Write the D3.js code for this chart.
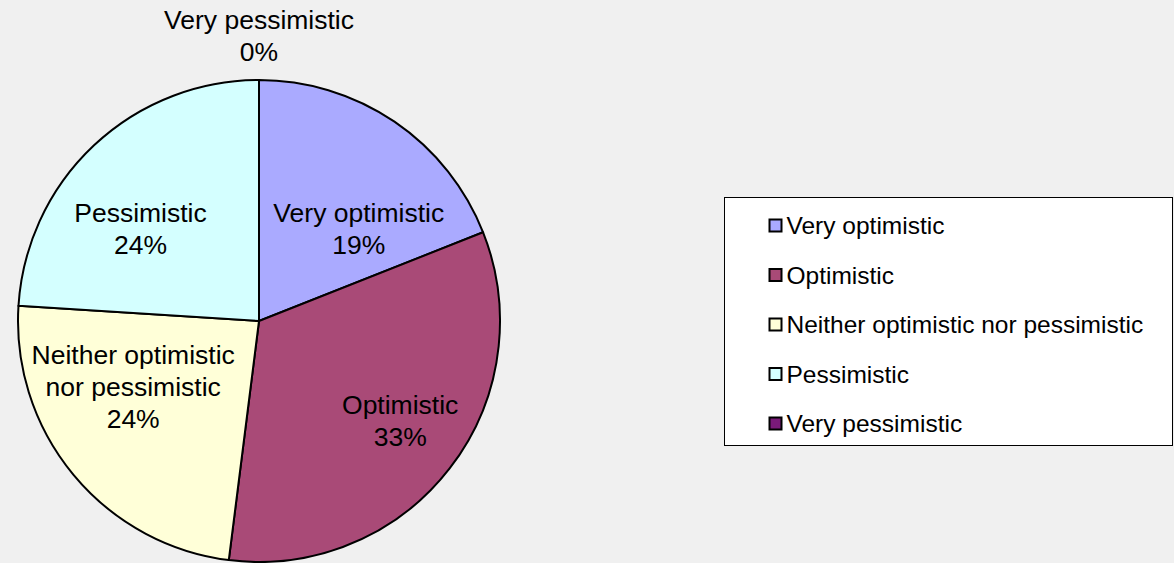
<!DOCTYPE html>
<html>
<head>
<meta charset="utf-8">
<script src="https://cdn.jsdelivr.net/npm/d3@7"></script>
<style>
  html, body { margin: 0; padding: 0; background: #f0f0f0; }
  svg { display: block; font-family: "Liberation Sans", Arial, sans-serif; }
</style>
</head>
<body>
<svg id="chart" width="1174" height="563"></svg>
<script>
// Survey outlook shares (percent)
const categories = ["Very optimistic", "Optimistic", "Neither optimistic nor pessimistic", "Pessimistic", "Very pessimistic"];
const shares = [19, 33, 24, 24, 0];
const sliceColors = ["#aaaaff", "#a94a77", "#ffffd8", "#d4ffff", "#7a1a79"];
// Data label lines inside each slice
const labelLines = [
  ["Very optimistic"],
  ["Optimistic"],
  ["Neither optimistic", "nor pessimistic"],
  ["Pessimistic"],
  ["Very pessimistic"]
];

const svg = d3.select("#chart");
const cx = 259, cy = 321, R = 241;

const pie = d3.pie().sort(null).value(d => d.value);
const arcs = pie(categories.map((c, i) => ({ name: c, value: shares[i], color: sliceColors[i], lines: labelLines[i] })));
const arc = d3.arc().innerRadius(0).outerRadius(R);

const g = svg.append("g").attr("transform", `translate(${cx},${cy})`);

g.selectAll("path.slice")
  .data(arcs.filter(a => a.data.value > 0))
  .join("path")
  .attr("class", "slice")
  .attr("d", arc)
  .attr("fill", d => d.data.color)
  .attr("stroke", "#000")
  .attr("stroke-width", 2)
  .attr("stroke-linejoin", "round");

// Label placement: angle nudge (deg) and distance from centre, per slice
const labelPlace = [
  { dAngle: 13, r: 136 },
  { dAngle: -2.5, r: 173 },
  { dAngle: 12, r: 142 },
  { dAngle: -9, r: 150 },
  { dAngle: 0, r: R + 44 }
];
const fs = 26.5, lh = 32;

arcs.forEach((a, i) => {
  const mid = (a.startAngle + a.endAngle) / 2 + labelPlace[i].dAngle * Math.PI / 180;
  const r = labelPlace[i].r;
  const x = r * Math.sin(mid), y = -r * Math.cos(mid);
  const lines = a.data.lines.concat([d3.format(".0%")(a.data.value / 100)]);
  const t = g.append("text")
    .attr("text-anchor", "middle")
    .attr("font-size", fs)
    .attr("fill", "#000");
  const y0 = y - (lines.length - 1) * lh / 2;
  lines.forEach((ln, k) => {
    t.append("tspan")
      .attr("x", x)
      .attr("y", y0 + k * lh)
      .attr("dy", "0.35em")
      .text(ln);
  });
});

// Legend
const lg = svg.append("g").attr("transform", "translate(724.5,197.5)");
lg.append("rect")
  .attr("width", 448).attr("height", 248)
  .attr("fill", "#fff").attr("stroke", "#000").attr("stroke-width", 1);

const legendY = d3.scalePoint().domain(categories).range([28, 226]);
const items = lg.selectAll("g.item")
  .data(arcs.map(a => a.data))
  .join("g")
  .attr("class", "item")
  .attr("transform", d => `translate(0,${legendY(d.name)})`);

items.append("rect")
  .attr("x", 45).attr("y", -6)
  .attr("width", 12).attr("height", 12)
  .attr("fill", d => d.color)
  .attr("stroke", "#000").attr("stroke-width", 2);

items.append("text")
  .attr("x", 62)
  .attr("dy", "0.35em")
  .attr("font-size", 24.5)
  .attr("fill", "#000")
  .text(d => d.name);
</script>
</body>
</html>
